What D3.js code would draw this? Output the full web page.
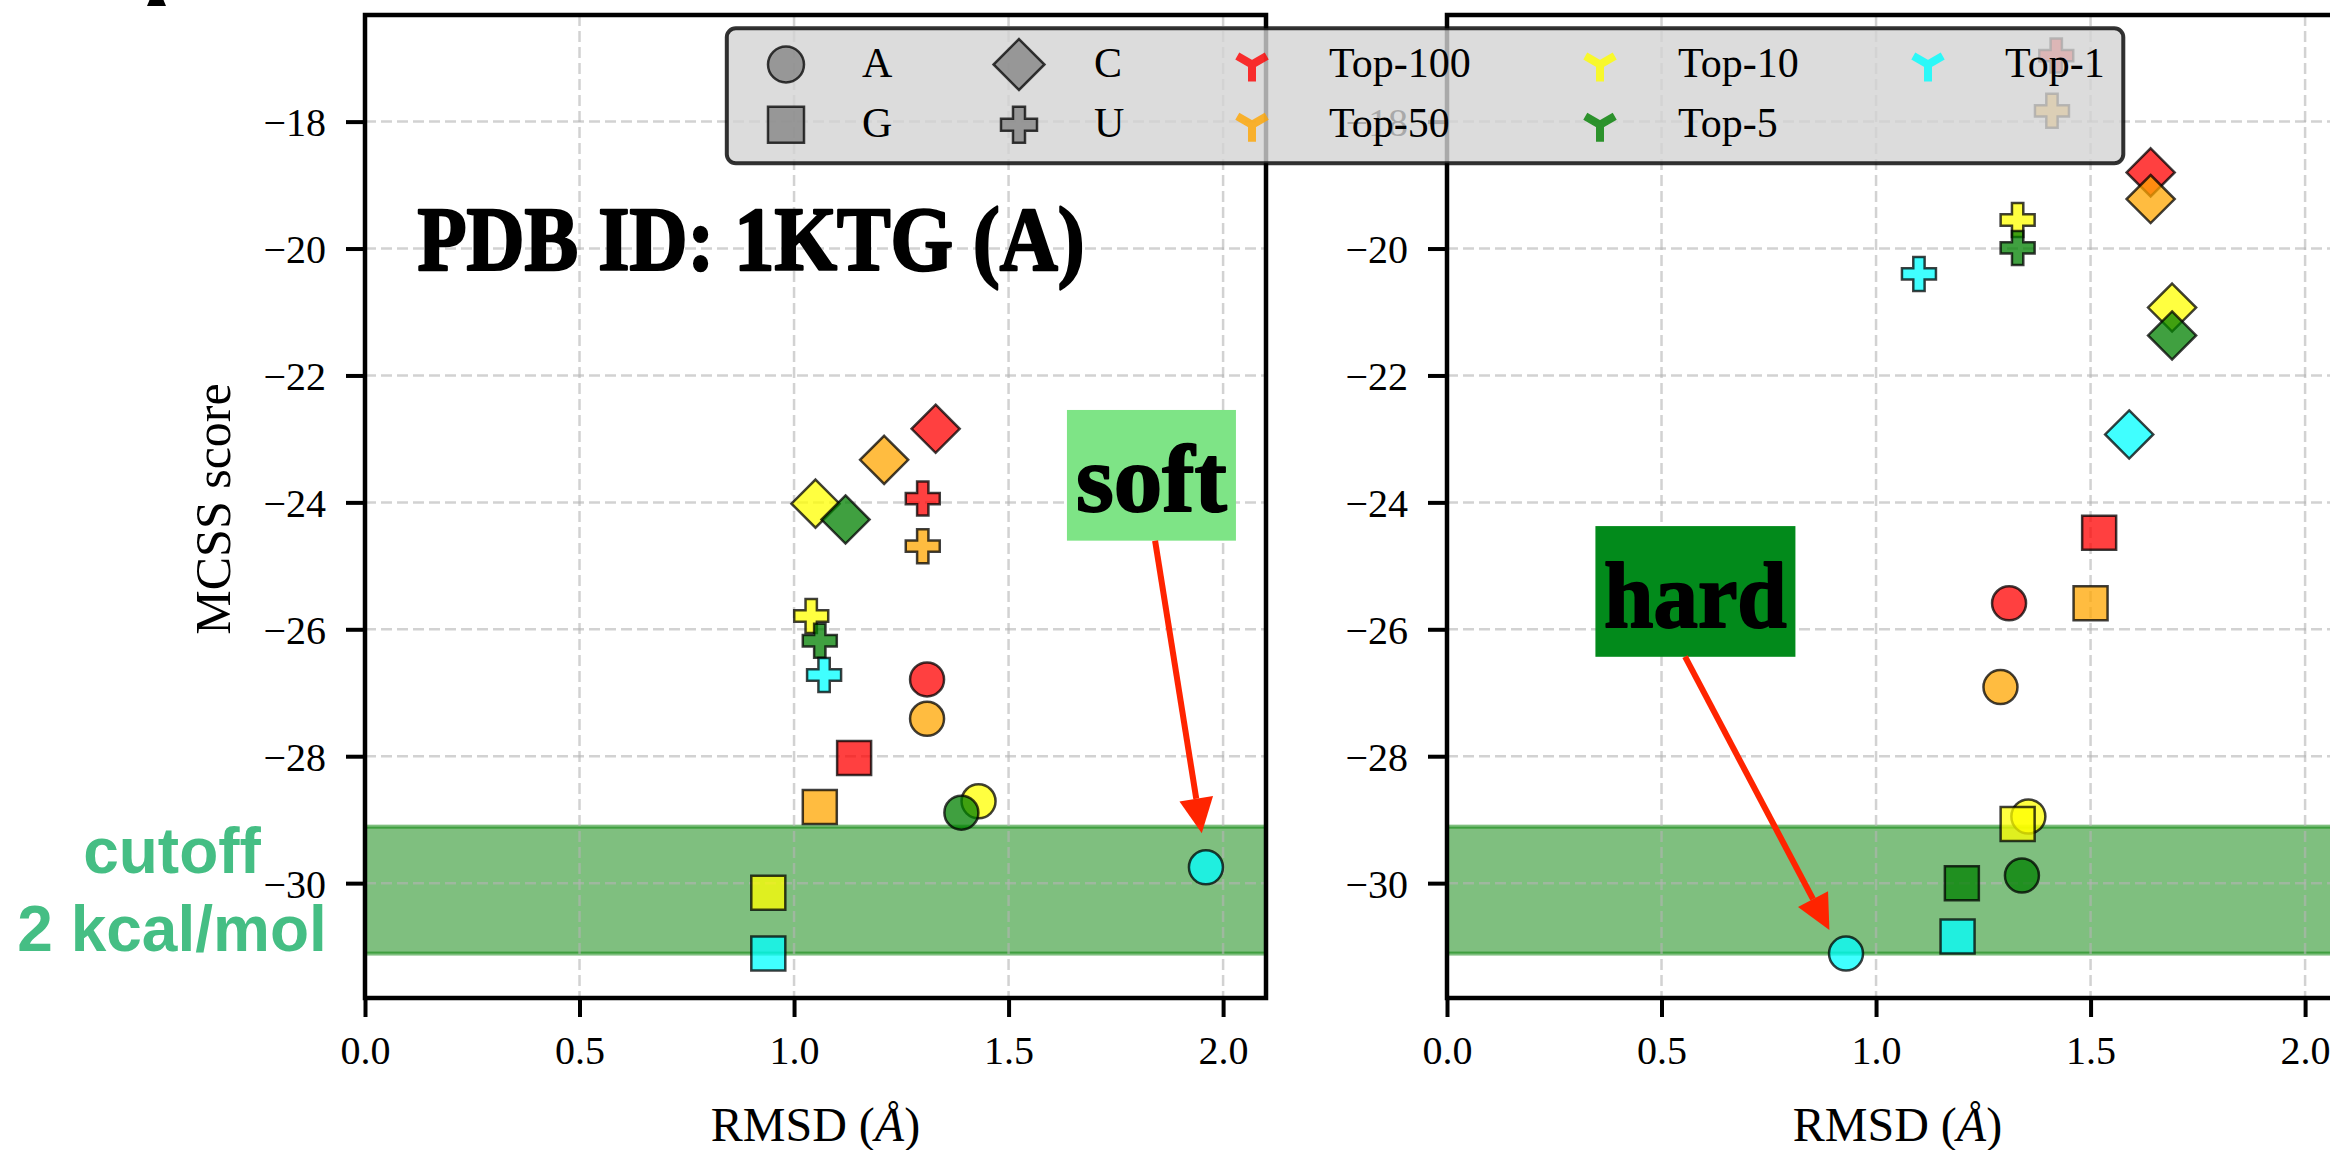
<!DOCTYPE html>
<html><head><meta charset="utf-8">
<script src="https://cdn.jsdelivr.net/npm/d3@7"></script>
<style>body{margin:0;background:#fff}svg{display:block}</style>
</head><body>
<svg id="chart" width="2330" height="1150"></svg>
<script>
// ---------------- data ----------------
const nucleotides = ["A", "G", "C", "U"];
const nucleotideShapes = ["circle", "square", "diamond", "plus"];
const topLevels = ["Top-100", "Top-50", "Top-10", "Top-5", "Top-1"];
const topColors = ["#ff0000", "#ffa500", "#ffff00", "#008000", "#00ffff"];

// rows: Top-100, Top-50, Top-10, Top-5, Top-1 ; columns: A, G, C, U
const leftRMSD = [
  [1.31, 1.14, 1.33, 1.30],
  [1.31, 1.06, 1.21, 1.30],
  [1.43, 0.94, 1.05, 1.04],
  [1.39, null, 1.12, 1.06],
  [1.96, 0.94, null, 1.07]
];
const leftScore = [
  [-26.79, -28.03, -22.84, -23.94],
  [-27.41, -28.80, -23.33, -24.69],
  [-28.71, -30.15, -24.02, -25.79],
  [-28.89, null, -24.27, -26.18],
  [-29.75, -31.11, null, -26.72]
];
const rightRMSD = [
  [1.31, 1.52, 1.64, 1.42],
  [1.29, 1.50, 1.64, 1.41],
  [1.355, 1.33, 1.69, 1.33],
  [1.34, 1.20, 1.69, 1.33],
  [0.93, 1.19, 1.59, 1.10]
];
const rightScore = [
  [-25.59, -24.48, -18.80, -16.96],
  [-26.91, -25.59, -19.22, -17.83],
  [-28.95, -29.07, -20.93, -19.55],
  [-29.88, -30.00, -21.37, -19.99],
  [-31.11, -30.84, -22.93, -20.40]
];

const xTicks = [0.0, 0.5, 1.0, 1.5, 2.0];
const yTicks = [-30, -28, -26, -24, -22, -20, -18];
const xDomain = [0, 2.1];
const yDomain = [-31.81, -16.32];
const cutoffBand = [-31.11, -29.11];

const titleText = "PDB ID: 1KTG (A)";
const cutoffLines = ["cutoff", "2 kcal/mol"];
// annotations: text, text centre (data), arrow start (data), arrow tip (data)
const annotations = [
  {panel: 0, text: "soft", tx: 1.833, ty: -24.14, sx: 1.8415, sy: -24.605, ex: 1.9503, ey: -29.215},
  {panel: 1, text: "hard", tx: 0.579, ty: -25.97, sx: 0.5548, sy: -26.432, ex: 0.8912, ey: -30.739}
];

// ---------------- layout ----------------
const svg = d3.select("#chart");
const serif = "'Liberation Serif', 'Times New Roman', serif";
const sans = "'Liberation Sans', Arial, Helvetica, sans-serif";
const y = d3.scaleLinear().domain(yDomain).range([998, 15]);
const panels = [
  {x: d3.scaleLinear().domain(xDomain).range([365, 1266]), rmsd: leftRMSD, score: leftScore, label: true},
  {x: d3.scaleLinear().domain(xDomain).range([1447, 2348]), rmsd: rightRMSD, score: rightScore, label: false}
];
const MS = 34; // marker size

function shapePath(shape, s) {
  const a = s / 2;
  if (shape === "circle") return `M${a},0A${a},${a} 0 1,1 ${-a},0A${a},${a} 0 1,1 ${a},0Z`;
  if (shape === "square") return `M${-a},${-a}H${a}V${a}H${-a}Z`;
  if (shape === "diamond") { const d = s * 0.7071; return `M0,${-d}L${d},0L0,${d}L${-d},0Z`; }
  const b = s / 6;
  return `M${-b},${-a}H${b}V${-b}H${a}V${b}H${b}V${a}H${-b}V${b}H${-a}V${-b}H${-b}Z`;
}
function triDown(r) {
  const c = 0.866 * r, h = 0.5 * r;
  return `M0,0L0,${r}M0,0L${c},${-h}M0,0L${-c},${-h}`;
}

const defs = svg.append("defs");

panels.forEach((p, pi) => {
  const [x0, x1] = p.x.range();
  const [yb, yt] = y.range();
  const clipId = "clip" + pi;
  defs.append("clipPath").attr("id", clipId)
    .append("rect").attr("x", x0).attr("y", yt).attr("width", x1 - x0).attr("height", yb - yt);
  const g = svg.append("g");
  const plot = g.append("g").attr("clip-path", `url(#${clipId})`);

  // cutoff band
  plot.append("rect")
    .attr("x", x0 - 5).attr("width", x1 - x0 + 10)
    .attr("y", y(cutoffBand[1])).attr("height", y(cutoffBand[0]) - y(cutoffBand[1]))
    .attr("fill", "#008000").attr("fill-opacity", 0.5)
    .attr("stroke", "#008000").attr("stroke-opacity", 0.5).attr("stroke-width", 4);

  // grid
  plot.selectAll(".vg").data(xTicks.filter(d => d > 0)).enter().append("line")
    .attr("x1", d => p.x(d)).attr("x2", d => p.x(d)).attr("y1", yt).attr("y2", yb)
    .attr("stroke", "#b4b4b4").attr("stroke-opacity", 0.6).attr("stroke-width", 2.5).attr("stroke-dasharray", "11 5");
  plot.selectAll(".hg").data(yTicks).enter().append("line")
    .attr("x1", x0).attr("x2", x1).attr("y1", d => y(d)).attr("y2", d => y(d))
    .attr("stroke", "#b4b4b4").attr("stroke-opacity", 0.6).attr("stroke-width", 2.5).attr("stroke-dasharray", "11 5");

  // points: order Top-100..Top-1, A,G,C,U
  const pts = [];
  topLevels.forEach((t, ti) => nucleotides.forEach((n, ni) => {
    const xv = p.rmsd[ti][ni], yv = p.score[ti][ni];
    if (xv !== null && yv !== null) pts.push({xv, yv, ti, ni});
  }));
  g.selectAll(".pt").data(pts).enter().append("path")
    .attr("transform", d => `translate(${p.x(d.xv)},${y(d.yv)})`)
    .attr("d", d => shapePath(nucleotideShapes[d.ni], MS))
    .attr("fill", d => topColors[d.ti]).attr("fill-opacity", 0.75)
    .attr("stroke", "#000").attr("stroke-opacity", 0.75).attr("stroke-width", 2.5);

  // spines
  g.append("rect").attr("x", x0).attr("y", yt).attr("width", x1 - x0).attr("height", yb - yt)
    .attr("fill", "none").attr("stroke", "#000").attr("stroke-width", 4.5);

  // axes
  const ax = g.append("g").attr("transform", `translate(0,${yb})`)
    .call(d3.axisBottom(p.x).tickValues(xTicks).tickFormat(d3.format(".1f")).tickSize(19).tickPadding(18.6));
  const ay = g.append("g").attr("transform", `translate(${x0},0)`)
    .call(d3.axisLeft(y).tickValues(yTicks).tickFormat(d3.format("d")).tickSize(19).tickPadding(20));
  [ax, ay].forEach(a => {
    a.select(".domain").remove();
    a.selectAll(".tick line").attr("stroke", "#000").attr("stroke-width", 4);
    a.selectAll(".tick text").attr("fill", "#000").style("font-family", serif).style("font-size", "40px");
  });
  ay.selectAll(".tick text").attr("dy", "0.35em");

  // x label
  const xl = g.append("text").attr("x", (x0 + x1) / 2).attr("y", 1141).attr("text-anchor", "middle")
    .style("font-family", serif).style("font-size", "48px").attr("fill", "#000");
  xl.append("tspan").text("RMSD (");
  xl.append("tspan").attr("font-style", "italic").text("Å");
  xl.append("tspan").text(")");

  if (p.label) {
    g.append("text").attr("transform", "translate(230,509) rotate(-90)").attr("text-anchor", "middle")
      .style("font-family", serif).style("font-size", "50px").attr("fill", "#000").text("MCSS score");
  }
});

// title
svg.append("text").attr("x", 417.5).attr("y", 269.7)
  .style("font-family", serif).style("font-size", "90px").style("font-weight", "bold")
  .attr("textLength", 667).attr("lengthAdjust", "spacingAndGlyphs")
  .attr("fill", "#000").attr("stroke", "#000").attr("stroke-width", 2.5).attr("stroke-linejoin", "round")
  .text(titleText);

// cutoff text
svg.selectAll(".cut").data(cutoffLines).enter().append("text")
  .attr("x", 172).attr("y", (d, i) => [872.7, 950.7][i]).attr("text-anchor", "middle")
  .style("font-family", sans).style("font-size", "64px").style("font-weight", "bold")
  .attr("fill", "#45be84").text(d => d);

// annotations
const annStyle = [
  {fill: "#7ee486", size: 96, len: 150.7, w: 169},
  {fill: "#028a1b", size: 94, len: 182.7, w: 200}
];
annotations.forEach((a, i) => {
  const sx = panels[a.panel].x;
  const st = annStyle[i];
  const cx = sx(a.tx), by = y(a.ty);
  const g = svg.append("g");
  g.append("rect").attr("x", cx - st.w / 2).attr("y", by - 101.3).attr("width", st.w).attr("height", 130.7)
    .attr("fill", st.fill);
  g.append("text").attr("x", cx).attr("y", by).attr("text-anchor", "middle")
    .style("font-family", serif).style("font-size", st.size + "px").style("font-weight", "bold")
    .attr("textLength", st.len).attr("lengthAdjust", "spacingAndGlyphs")
    .attr("fill", "#000").attr("stroke", "#000").attr("stroke-width", 2).attr("stroke-linejoin", "round")
    .text(a.text);
  // arrow
  const x1 = sx(a.sx), y1 = y(a.sy), x2 = sx(a.ex), y2 = y(a.ey);
  const ang = Math.atan2(y2 - y1, x2 - x1);
  const hl = 35, hw = 17;
  const bx = x2 - hl * Math.cos(ang), byy = y2 - hl * Math.sin(ang);
  g.append("line").attr("x1", x1).attr("y1", y1).attr("x2", bx).attr("y2", byy)
    .attr("stroke", "#ff2400").attr("stroke-width", 6);
  const px = -Math.sin(ang), py = Math.cos(ang);
  g.append("path")
    .attr("d", `M${x2},${y2}L${bx + px * hw},${byy + py * hw}L${bx - px * hw},${byy - py * hw}Z`)
    .attr("fill", "#ff2400");
});

// cut-off fragment at top-left (bottom of a clipped glyph)
svg.append("path").attr("d", "M147,6L166,6L163.5,0L149.5,0Z").attr("fill", "#000");

// legend
const legendItems = nucleotides.map((n, i) => ({label: n, kind: "shape", shape: nucleotideShapes[i]}))
  .concat(topLevels.map((t, i) => ({label: t, kind: "tri", color: topColors[i]})));
const colMarkerX = [786, 1019, 1252, 1600, 1928];
const colTextX = [862, 1094, 1329, 1678, 2005];
const rowY = [64.5, 124.7];
const lg = svg.append("g");
lg.append("rect").attr("x", 726.8).attr("y", 28.3).attr("width", 2123.3 - 726.8).attr("height", 163.3 - 28.3)
  .attr("rx", 9).attr("fill", "#d3d3d3").attr("fill-opacity", 0.8)
  .attr("stroke", "#000").attr("stroke-opacity", 0.8).attr("stroke-width", 4);
legendItems.forEach((it, i) => {
  const col = Math.floor(i / 2), row = i % 2;
  const mx = colMarkerX[col], my = rowY[row];
  if (it.kind === "shape") {
    lg.append("path").attr("transform", `translate(${mx},${my})`).attr("d", shapePath(it.shape, MS + 2))
      .attr("fill", "#808080").attr("fill-opacity", 0.75)
      .attr("stroke", "#000").attr("stroke-opacity", 0.75).attr("stroke-width", 2.5);
  } else {
    lg.append("path").attr("transform", `translate(${mx},${my})`).attr("d", triDown(17))
      .attr("fill", "none").attr("stroke", it.color).attr("stroke-opacity", 0.8).attr("stroke-width", 8);
  }
  lg.append("text").attr("x", colTextX[col]).attr("y", row === 0 ? 76.5 : 136.5)
    .style("font-family", serif).style("font-size", "42px").attr("fill", "#000").text(it.label);
});
</script>
</body></html>
